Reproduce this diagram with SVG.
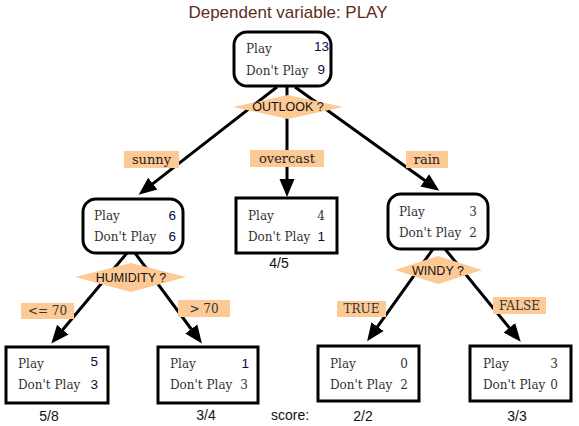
<svg xmlns="http://www.w3.org/2000/svg" width="579" height="426" viewBox="0 0 579 426">
<style>
.box{fill:#fff;stroke:#000;stroke-width:3}
.lbl{font-family:"DejaVu Serif",serif;font-size:12px;fill:#333}
.num{font-family:"Liberation Sans",sans-serif;font-size:13.5px;fill:#0a0a40;text-anchor:end}
.snum{font-family:"DejaVu Serif",serif;font-size:12px;fill:#333;text-anchor:end}
.tag{fill:#fdc995}
.tagt{font-family:"DejaVu Serif",serif;font-size:13px;fill:#222;text-anchor:middle}
.tags{font-family:"DejaVu Serif",serif;font-size:12px;fill:#333;text-anchor:middle}
.dia{fill:#fdc995}
.diat{font-family:"Liberation Sans",sans-serif;font-size:12.5px;fill:#111;text-anchor:middle}
.score{font-family:"Liberation Sans",sans-serif;font-size:14px;fill:#111;text-anchor:middle}
.edge{stroke:#000;stroke-width:3;fill:none;marker-end:url(#arr)}
</style>
<defs>
<marker id="arr" markerUnits="userSpaceOnUse" markerWidth="24" markerHeight="20" viewBox="0 -10 24 20" refX="8" refY="0" orient="auto">
<path d="M0,-7.5 L18,0 L0,7.5 z" fill="#000"/>
</marker>
</defs>
<text x="288" y="18" font-family="Liberation Sans, sans-serif" font-size="17" fill="#5e2c1a" text-anchor="middle">Dependent variable: PLAY</text>

<g id="connectors">
<path class="edge" d="M277,87 L146.5,188.6"/>
<path class="edge" d="M287,87 L287,187"/>
<path class="edge" d="M295,87 L431.2,185"/>
<path class="edge" d="M127,253 L57.7,335.8"/>
<path class="edge" d="M135,253 L196,335.5"/>
<path class="edge" d="M433,249 L372.9,333.2"/>
<path class="edge" d="M445,249 L514.4,334"/>
</g>

<g id="edge-labels">
<rect class="tag" x="124" y="151" width="55" height="17"/><text class="tagt" x="151.5" y="164">sunny</text>
<rect class="tag" x="250" y="150" width="74" height="17"/><text class="tagt" x="287" y="163">overcast</text>
<rect class="tag" x="406" y="151" width="42" height="17"/><text class="tagt" x="427" y="164">rain</text>
<rect class="tag" x="21" y="303" width="53" height="16"/><text class="tags" x="47.5" y="315">&lt;= 70</text>
<rect class="tag" x="178" y="300" width="52" height="17"/><text class="tags" x="204" y="313">&gt; 70</text>
<rect class="tag" x="337" y="301" width="49" height="16"/><text class="tags" x="361.5" y="313">TRUE</text>
<rect class="tag" x="493" y="297" width="53" height="17"/><text class="tags" x="519.5" y="310">FALSE</text>
</g>

<g id="root">
<rect class="box" x="234" y="32" width="97" height="54" rx="13"/>
<text class="lbl" x="246" y="53">Play</text>
<text class="num" x="329" y="51">13</text>
<text class="lbl" x="246" y="75">Don't Play</text>
<text class="num" x="325" y="74">9</text>
</g>
<g id="outlook">
<polygon class="dia" points="233,107 288,95 343,107 288,119"/>
<text class="diat" x="288" y="111">OUTLOOK ?</text>
</g>

<g id="sunny-node">
<rect class="box" x="83" y="199" width="100" height="54" rx="13"/>
<text class="lbl" x="94" y="220">Play</text>
<text class="num" x="176" y="220">6</text>
<text class="lbl" x="94" y="241">Don't Play</text>
<text class="num" x="176" y="241">6</text>
</g>
<g id="humidity">
<polygon class="dia" points="75,277 131,263 186,277 131,292"/>
<text class="diat" x="131" y="282">HUMIDITY ?</text>
</g>

<g id="overcast-node">
<rect class="box" x="236" y="198" width="101" height="55"/>
<text class="lbl" x="248" y="220">Play</text>
<text class="snum" x="325" y="220">4</text>
<text class="lbl" x="248" y="241">Don't Play</text>
<text class="num" x="325" y="241">1</text>
<text class="score" x="279" y="268">4/5</text>
</g>

<g id="rain-node">
<rect class="box" x="388" y="194" width="100" height="55" rx="13"/>
<text class="lbl" x="399" y="216">Play</text>
<text class="snum" x="477" y="216">3</text>
<text class="lbl" x="399" y="237">Don't Play</text>
<text class="snum" x="477" y="237">2</text>
</g>
<g id="windy">
<polygon class="dia" points="395,270 438,256 482,270 438,284"/>
<text class="diat" x="438" y="275">WINDY ?</text>
</g>

<g id="leaf1">
<rect class="box" x="6" y="347" width="102" height="56"/>
<text class="lbl" x="18" y="368">Play</text>
<text class="num" x="98" y="366">5</text>
<text class="lbl" x="18" y="389">Don't Play</text>
<text class="num" x="98" y="389">3</text>
<text class="score" x="49" y="421">5/8</text>
</g>
<g id="leaf2">
<rect class="box" x="158" y="347" width="100" height="56"/>
<text class="lbl" x="170" y="368">Play</text>
<text class="num" x="249" y="368">1</text>
<text class="lbl" x="170" y="389">Don't Play</text>
<text class="snum" x="248" y="389">3</text>
<text class="score" x="206" y="420">3/4</text>
</g>
<text class="score" x="290" y="420">score:</text>
<g id="leaf3">
<rect class="box" x="318" y="346" width="101" height="55"/>
<text class="lbl" x="330" y="368">Play</text>
<text class="snum" x="408" y="368">0</text>
<text class="lbl" x="330" y="389">Don't Play</text>
<text class="snum" x="408" y="389">2</text>
<text class="score" x="363" y="421">2/2</text>
</g>
<g id="leaf4">
<rect class="box" x="470" y="346" width="101" height="55"/>
<text class="lbl" x="483" y="368">Play</text>
<text class="snum" x="558" y="368">3</text>
<text class="lbl" x="483" y="389">Don't Play</text>
<text class="snum" x="558" y="389">0</text>
<text class="score" x="517" y="421">3/3</text>
</g>
</svg>
